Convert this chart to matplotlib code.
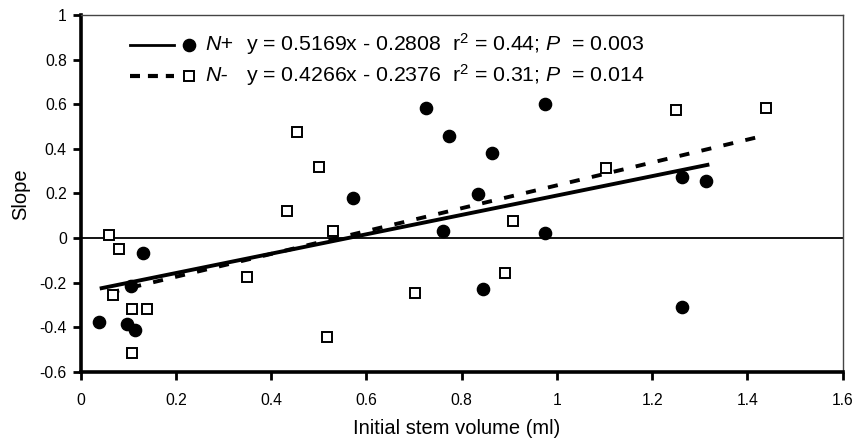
import matplotlib
matplotlib.use("Agg")
import matplotlib.pyplot as plt
from matplotlib.lines import Line2D

plt.rcParams['font.family'] = ['Liberation Sans', 'DejaVu Sans']
plt.rcParams['mathtext.fontset'] = 'custom'
plt.rcParams['mathtext.rm'] = 'Liberation Sans'
plt.rcParams['mathtext.it'] = 'Liberation Sans:italic'

# N+ (filled circles)
np_x = [0.038, 0.097, 0.114, 0.106, 0.131, 0.572, 0.725, 0.774, 0.863, 0.834,
        0.975, 1.262, 1.312, 0.761, 0.975, 0.845, 1.262]
np_y = [-0.375, -0.383, -0.410, -0.214, -0.066, 0.182, 0.582, 0.457, 0.383, 0.197,
        0.600, 0.275, 0.257, 0.033, 0.024, -0.229, -0.309]
# N- (open squares)
nm_x = [0.0595, 0.080, 0.068, 0.107, 0.139, 0.107, 0.349, 0.434, 0.530, 0.518,
        0.702, 0.454, 0.501, 1.102, 1.249, 1.438, 0.908, 0.891]
nm_y = [0.016, -0.049, -0.257, -0.318, -0.318, -0.517, -0.175, 0.122, 0.033, -0.444,
        -0.247, 0.474, 0.320, 0.313, 0.574, 0.584, 0.078, -0.156]

# trend lines as drawn in the picture (endpoints)
np_line_x = [0.040, 1.320]
np_line_y = [-0.226, 0.330]
nm_line_x = [0.060, 1.440]
nm_line_y = [-0.245, 0.462]

np_name = "N+"
nm_name = "N-"
np_eq = r"y = 0.5169x - 0.2808  r$^2$ = 0.44; $\mathit{P}$  = 0.003"
nm_eq = r"y = 0.4266x - 0.2376  r$^2$ = 0.31; $\mathit{P}$  = 0.014"

xticks = [0, 0.2, 0.4, 0.6, 0.8, 1, 1.2, 1.4, 1.6]
xticklabels = ['0', '0.2', '0.4', '0.6', '0.8', '1', '1.2', '1.4', '1.6']
yticks = [-0.6, -0.4, -0.2, 0, 0.2, 0.4, 0.6, 0.8, 1]
yticklabels = ['-0.6', '-0.4', '-0.2', '0', '0.2', '0.4', '0.6', '0.8', '1']

W, H = 855, 438
fig = plt.figure(figsize=(W/100, H/100), dpi=100)
ax = fig.add_axes([80.7/W, 1-372/H, (842.7-80.7)/W, (372-15)/H])

ax.set_xlim(0, 1.6)
ax.set_ylim(-0.6, 1)
ax.axhline(0, color='black', lw=1.3, zorder=1)

ax.plot(np_line_x, np_line_y, color='black', lw=2.8, ls='-', zorder=2,
        solid_capstyle='butt')
ax.plot(nm_line_x, nm_line_y, color='black', lw=2.8, ls=(0, (2.6, 3.2)), zorder=2,
        dash_capstyle='butt')

ax.plot(np_x, np_y, 'o', color='black', ms=8.8, zorder=3)
ax.plot(nm_x, nm_y, 's', mfc='white', mec='black', mew=1.4, ms=7.5, zorder=3)

ax.set_xticks(xticks)
ax.set_xticklabels(xticklabels)
ax.set_yticks(yticks)
ax.set_yticklabels(yticklabels)
ax.tick_params(direction='out', length=6, width=2, labelsize=11.3, colors='black')
ax.tick_params(axis='x', pad=9)
ax.tick_params(axis='y', pad=4)
for s in ['left', 'bottom']:
    ax.spines[s].set_linewidth(2.6)
for s in ['top', 'right']:
    ax.spines[s].set_linewidth(1.0)
    ax.spines[s].set_color('#444444')

fig.text(457/W, 1-434/H, 'Initial stem volume (ml)', fontsize=14.5,
         ha='center', va='baseline')
fig.text(20.5/W, 1-194/H, 'Slope', fontsize=14.5, rotation=90,
         ha='center', va='center')

# legend (manual, inside the plot area top-left)
fs = 15.3
rows = [(44.5, '-', np_name, np_eq), (75.5, '--', nm_name, nm_eq)]
for ypix, ls, name, eq in rows:
    yf = 1 - ypix/H
    if ls == '-':
        fig.add_artist(Line2D([130/W, 174/W], [yf, yf], color='black', lw=2.0))
        fig.add_artist(Line2D([189/W], [yf], marker='o', color='black', ms=8.8, ls='none'))
    else:
        fig.add_artist(Line2D([130/W, 174/W], [yf, yf], color='black', lw=3.0,
                              ls=(0, (2.4, 1.9)), dash_capstyle='butt'))
        fig.add_artist(Line2D([189/W], [yf], marker='s', mfc='white', mec='black',
                              mew=1.4, ms=7.5, ls='none'))
    fig.text(205/W, yf, name, style='italic', fontsize=fs, va='center')
    fig.text(246/W, yf, eq, fontsize=fs, va='center')

fig.savefig('out.png', dpi=100)
